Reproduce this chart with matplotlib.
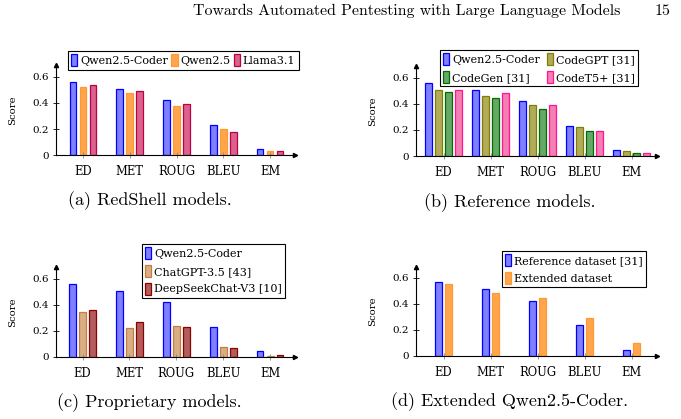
import matplotlib
matplotlib.use('Agg')
import matplotlib.pyplot as plt
import numpy as np

plt.rcParams['font.family'] = ['DejaVu Serif']
plt.rcParams['axes.unicode_minus'] = False

metrics = ['ED', 'MET', 'ROUG', 'BLEU', 'EM']

# (a) RedShell models
redshell_names = ['Qwen2.5-Coder', 'Qwen2.5', 'Llama3.1']
qwen_coder = [0.562, 0.509, 0.421, 0.230, 0.046]
qwen = [0.521, 0.478, 0.379, 0.203, 0.030]
llama = [0.539, 0.496, 0.394, 0.180, 0.030]

# (b) reference models
ref_names = ['Qwen2.5-Coder', 'CodeGPT [31]', 'CodeGen [31]', 'CodeT5+ [31]']
codegpt = [0.506, 0.457, 0.388, 0.220, 0.036]
codegen = [0.490, 0.444, 0.357, 0.189, 0.020]
codet5 = [0.506, 0.483, 0.390, 0.189, 0.020]

# (c) proprietary models
prop_names = ['Qwen2.5-Coder', 'ChatGPT-3.5 [43]', 'DeepSeekChat-V3 [10]']
chatgpt = [0.341, 0.220, 0.233, 0.074, 0.008]
deepseek = [0.362, 0.264, 0.226, 0.064, 0.013]

# (d) extended dataset
ext_names = ['Reference dataset [31]', 'Extended dataset']
reference_ds = [0.564, 0.513, 0.423, 0.233, 0.041]
extended_ds = [0.549, 0.482, 0.444, 0.287, 0.095]

BLUE = ('#8080ff', '#0000ff')
ORANGE = ('#ffa64d', '#ff9933')
PURPLE = ('#d9628f', '#bf0040')
OLIVE = ('#b3ab5c', '#808000')
GREEN = ('#66a866', '#006b00')
PINK = ('#f37fb3', '#ff1493')
BROWN = ('#dbad82', '#c08040')
DRED = ('#b35c5c', '#8b0000')

W, H = 681, 419
fig = plt.figure(figsize=(W / 100, H / 100), dpi=100)


def px_axes(left, right, zero_y, top_y):
    return fig.add_axes([left / W, 1 - zero_y / H, (right - left) / W, (zero_y - top_y) / H])


def panel(ax, series, names, colors, x0_px, step_px, left_px, right_px, px_per_unit, zero_y, top_y,
          legend_kw, order=None):
    x = np.arange(len(metrics))
    n = len(series)
    off = 10.0 / step_px
    bw = 6.8 / step_px
    for i, (vals, name, col) in enumerate(zip(series, names, colors)):
        ax.bar(x + (i - (n - 1) / 2) * off, vals, bw, label=name,
               facecolor=col[0], edgecolor=col[1], linewidth=0.9)
    ax.set_xlim((left_px - x0_px) / step_px, (right_px - x0_px) / step_px)
    ax.set_ylim(0, (zero_y - top_y) / px_per_unit)
    ax.set_xticks(x)
    ax.set_xticklabels(metrics, fontsize=8.3)
    ax.set_yticks([0, 0.2, 0.4, 0.6])
    ax.set_yticklabels(['0', '0.2', '0.4', '0.6'], fontsize=7.5)
    ax.tick_params(axis='x', direction='inout', length=5, width=0.6, color='#888888', pad=5)
    ax.tick_params(axis='y', direction='inout', length=4, width=0.6, pad=3)
    for s in ['top', 'right']:
        ax.spines[s].set_visible(False)
    for s in ['left', 'bottom']:
        ax.spines[s].set_linewidth(0.8)
    ax.plot(1, 0, '>', color='black', markersize=3, transform=ax.transAxes, clip_on=False)
    ax.plot(0, 1, '^', color='black', markersize=3, transform=ax.transAxes, clip_on=False)
    ax.set_ylabel('Score', fontsize=7.3, labelpad=11)
    ax.patch.set_alpha(0)
    handles, labels = ax.get_legend_handles_labels()
    if order is not None:
        handles = [handles[k] for k in order]
        labels = [labels[k] for k in order]
    leg = ax.legend(handles, labels, fontsize=8, frameon=True, fancybox=False, framealpha=1,
                    edgecolor='black', handlelength=0.55, handleheight=1.3,
                    handletextpad=0.25, borderpad=0.3, labelspacing=0.5,
                    borderaxespad=0, bbox_transform=fig.transFigure, **legend_kw)
    leg.get_frame().set_linewidth(0.8)


ax_a = px_axes(56, 295, 155, 65)
panel(ax_a, [qwen_coder, qwen, llama], redshell_names, [BLUE, ORANGE, PURPLE],
      83, 46.75, 56, 295, 130, 155, 65,
      dict(loc='upper left', bbox_to_anchor=(68 / W, 1 - 51 / H), ncol=3, columnspacing=0.3))

ax_b = px_axes(416, 657, 156, 66)
panel(ax_b, [qwen_coder, codegpt, codegen, codet5], ref_names, [BLUE, OLIVE, GREEN, PINK],
      443.5, 47, 416, 657, 130.5, 156, 66,
      dict(loc='upper left', bbox_to_anchor=(440 / W, 1 - 50 / H), ncol=2, columnspacing=0.6),
      order=[0, 2, 1, 3])

ax_c = px_axes(56, 295, 356.7, 267)
panel(ax_c, [qwen_coder, chatgpt, deepseek], prop_names, [BLUE, BROWN, DRED],
      82.5, 46.9, 56, 295, 130, 356.7, 267,
      dict(loc='upper left', bbox_to_anchor=(142 / W, 1 - 244 / H), ncol=1))

ax_d = px_axes(416, 657, 355.7, 266.7)
panel(ax_d, [reference_ds, extended_ds], ext_names, [BLUE, ORANGE],
      443.5, 47, 416, 657, 130, 355.7, 266.7,
      dict(loc='upper left', bbox_to_anchor=(502 / W, 1 - 251 / H), ncol=1))

fig.text(407 / W, 1 - 11 / H, 'Towards Automated Pentesting with Large Language Models',
         ha='center', va='center', fontsize=11.4, family='cmr10')
fig.text(662 / W, 1 - 11 / H, '15', ha='center', va='center', fontsize=11.4, family='cmr10')

captions = [('(a) RedShell models.', 150, 201), ('(b) Reference models.', 510, 203),
            ('(c) Proprietary models.', 149, 403), ('(d) Extended Qwen2.5-Coder.', 510, 402)]
for txt, cx, cy in captions:
    fig.text(cx / W, 1 - cy / H, txt, ha='center', va='center', fontsize=13, family='cmr10')

fig.savefig('out.png', dpi=100)
